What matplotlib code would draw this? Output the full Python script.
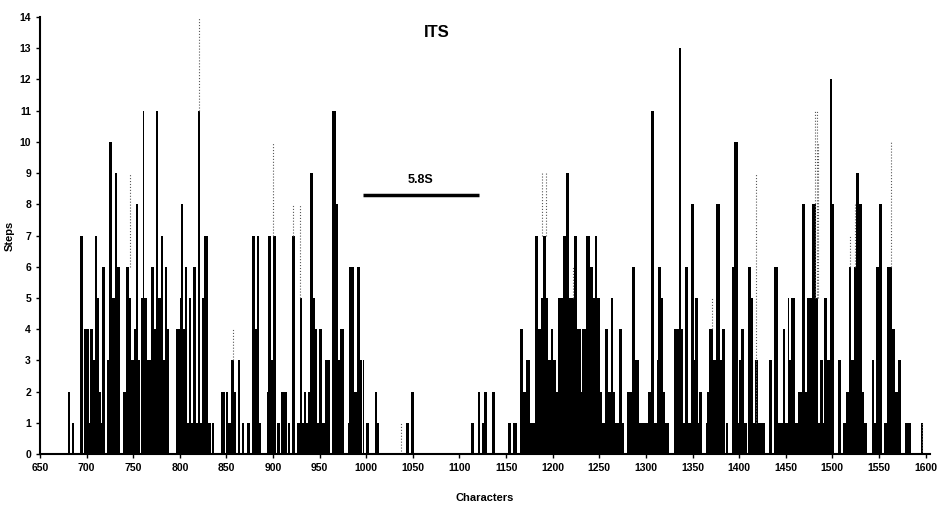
import matplotlib.pyplot as plt
from matplotlib.ticker import MultipleLocator

plt.rcParams['font.family'] = ['Liberation Sans', 'DejaVu Sans']

# Runs of equal step count along the alignment: [start, end) and steps
run_start = [680, 684, 693, 697, 702, 704, 707, 709, 711, 713, 715, 717, 722, 724, 727, 730, 733,
             739, 742, 745, 748, 751, 753, 755, 758, 760, 762, 765, 769, 772, 774, 777, 780, 782,
             784, 786, 796, 800, 801, 803, 805, 808, 810, 812, 814, 817, 819, 822, 824, 826, 830,
             834, 844, 849, 852, 855, 858, 862, 867, 872, 877, 881, 883, 885, 893, 895, 898, 900,
             904, 908, 911, 916, 920, 926, 929, 931, 933, 935, 937, 940, 943, 945, 947, 949, 953,
             956, 963, 967, 970, 972, 980, 981, 987, 990, 993, 996, 1000, 1009, 1012, 1043, 1048,
             1112, 1120, 1124, 1126, 1135, 1152, 1157, 1165, 1168, 1171, 1174, 1176, 1181, 1184,
             1184, 1186, 1187, 1190, 1193, 1195, 1198, 1200, 1206, 1211, 1214, 1218, 1223, 1226,
             1231, 1236, 1240, 1243, 1245, 1248, 1253, 1256, 1259, 1262, 1265, 1267, 1271, 1274,
             1280, 1285, 1288, 1293, 1302, 1305, 1309, 1312, 1313, 1316, 1318, 1320, 1330, 1335,
             1338, 1340, 1342, 1345, 1348, 1352, 1353, 1356, 1357, 1364, 1366, 1368, 1372, 1375,
             1379, 1380, 1382, 1386, 1392, 1395, 1399, 1400, 1402, 1405, 1409, 1413, 1415, 1417,
             1420, 1422, 1432, 1437, 1442, 1447, 1449, 1452, 1454, 1456, 1460, 1463, 1467, 1471,
             1473, 1478, 1482, 1485, 1487, 1490, 1491, 1494, 1497, 1500, 1506, 1511, 1515, 1518,
             1520, 1523, 1525, 1529, 1532, 1534, 1542, 1545, 1547, 1550, 1555, 1559, 1562, 1564,
             1567, 1570, 1578, 1595]
run_end = [682, 686, 696, 702, 704, 707, 709, 711, 713, 715, 717, 720, 724, 727, 730, 733, 736,
           742, 745, 748, 751, 753, 755, 757, 760, 762, 765, 769, 772, 774, 777, 780, 782, 784,
           786, 788, 800, 801, 803, 805, 808, 810, 812, 814, 817, 819, 822, 824, 826, 830, 833,
           837, 848, 852, 855, 858, 860, 864, 869, 875, 881, 883, 885, 887, 895, 898, 900, 903,
           907, 911, 915, 918, 923, 929, 931, 933, 935, 937, 940, 943, 945, 947, 949, 953, 956,
           961, 967, 970, 972, 976, 981, 987, 990, 993, 995, 998, 1003, 1012, 1014, 1046, 1051,
           1116, 1122, 1130, 1129, 1138, 1155, 1162, 1168, 1171, 1174, 1176, 1181, 1184, 1187,
           1253, 1187, 1190, 1193, 1195, 1198, 1200, 1203, 1211, 1214, 1217, 1223, 1226, 1230,
           1236, 1240, 1243, 1245, 1248, 1251, 1256, 1259, 1262, 1265, 1267, 1271, 1274, 1276,
           1285, 1288, 1293, 1302, 1305, 1309, 1312, 1315, 1316, 1318, 1320, 1325, 1335, 1338,
           1340, 1342, 1345, 1348, 1352, 1353, 1356, 1357, 1360, 1366, 1368, 1372, 1375, 1379,
           1380, 1382, 1385, 1388, 1395, 1399, 1400, 1402, 1405, 1408, 1413, 1415, 1417, 1420,
           1422, 1428, 1435, 1442, 1447, 1449, 1452, 1454, 1456, 1460, 1463, 1467, 1471, 1473,
           1478, 1482, 1485, 1487, 1490, 1491, 1494, 1497, 1500, 1502, 1509, 1515, 1518, 1520,
           1523, 1525, 1529, 1532, 1534, 1537, 1545, 1547, 1550, 1553, 1559, 1562, 1564, 1567,
           1570, 1574, 1584, 1597]
run_steps = [2, 1, 7, 4, 1, 4, 3, 7, 5, 2, 1, 6, 3, 10, 5, 9, 6,
             2, 6, 5, 3, 4, 8, 3, 5, 11, 5, 3, 6, 4, 11, 5, 7, 3,
             6, 4, 4, 5, 8, 4, 6, 1, 5, 1, 6, 1, 11, 1, 5, 7, 1,
             1, 2, 2, 1, 3, 2, 3, 1, 1, 7, 4, 7, 1, 2, 7, 3, 7,
             1, 2, 2, 1, 7, 1, 5, 1, 2, 1, 2, 9, 5, 4, 1, 4, 1,
             3, 11, 8, 3, 4, 1, 6, 2, 6, 3, 3, 1, 2, 1, 1, 2,
             1, 2, 1, 2, 2, 1, 1, 4, 2, 3, 3, 1, 7, 4,
             2, 3, 5, 7, 5, 3, 4, 3, 5, 7, 9, 5, 7, 4,
             4, 7, 6, 5, 7, 5, 1, 4, 2, 5, 2, 1, 4, 1,
             2, 6, 3, 1, 2, 11, 1, 3, 6, 5, 2, 1, 4, 13,
             4, 1, 6, 1, 8, 3, 5, 1, 2, 1, 2, 4, 3, 8,
             2, 3, 4, 1, 6, 10, 1, 3, 4, 1, 6, 5, 1, 3,
             1, 1, 3, 6, 1, 4, 1, 5, 3, 5, 1, 2, 8, 2,
             5, 8, 5, 1, 3, 1, 5, 3, 12, 8, 3, 1, 2, 6,
             3, 6, 9, 8, 2, 1, 3, 1, 6, 8, 1, 6, 6, 4,
             2, 3, 1, 1]

# Dotted extensions above some bars
dot_pos = [746, 821, 857, 900, 921, 929, 1037, 1189, 1193, 1222, 1371, 1418,
           1481, 1483, 1485, 1519, 1524, 1563, 1596]
dot_low = [6, 11, 3, 7, 7, 5, 0, 7, 7, 5, 4, 1, 5, 5, 5, 6, 6, 6, 0]
dot_high = [9, 14, 4, 10, 8, 8, 1, 9, 9, 6, 5, 9, 11, 11, 10, 7, 8, 10, 1]

x_ticks = list(range(650, 1601, 50))

fig = plt.figure(figsize=(9.42, 5.09), dpi=100)
ax = fig.add_axes([0.0425, 0.108, 0.945, 0.8585])

widths = [e - s for s, e in zip(run_start, run_end)]
ax.bar(run_start, run_steps, width=widths, align='edge', color='black', linewidth=0)
ax.vlines(dot_pos, dot_low, dot_high, colors='0.35', linestyles=':', linewidth=0.8)

# 5.8S region marker
ax.plot([996, 1121], [8.3, 8.3], color='black', linewidth=2.5, solid_capstyle='butt')
ax.text(1058, 8.6, '5.8S', ha='center', va='bottom', fontsize=9, fontweight='bold')

ax.text(1076, 13.5, 'ITS', ha='center', va='center', fontsize=12, fontweight='bold')

ax.set_xlim(650, 1605)
ax.set_ylim(0, 14)
ax.set_xticks(x_ticks)
ax.yaxis.set_major_locator(MultipleLocator(1))
ax.tick_params(axis='both', labelsize=7.5, length=3, width=1)
for lab in ax.get_xticklabels() + ax.get_yticklabels():
    lab.set_fontweight('bold')

ax.spines['top'].set_visible(False)
ax.spines['right'].set_visible(False)
ax.spines['left'].set_linewidth(1.5)
ax.spines['bottom'].set_linewidth(1.5)

ax.set_xlabel('Characters', fontsize=8, fontweight='bold')
ax.set_ylabel('Steps', fontsize=8, fontweight='bold')
ax.xaxis.set_label_coords(0.5, -0.09)
ax.yaxis.set_label_coords(-0.028, 0.5)

fig.savefig('out.png', dpi=100)
